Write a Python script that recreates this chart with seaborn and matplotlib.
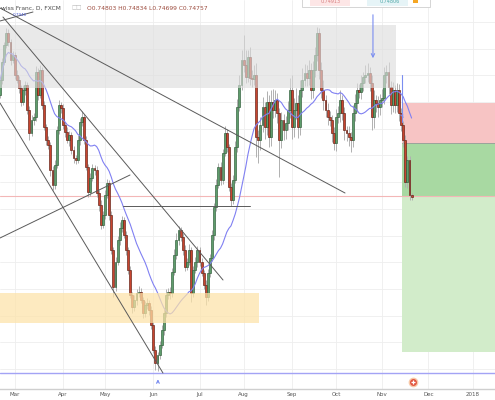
import numpy as np
import pandas as pd
import matplotlib
matplotlib.use("Agg")
import matplotlib.pyplot as plt
from matplotlib.patches import Rectangle
import seaborn as sns

sns.set_theme(style="white")
plt.rcParams["font.family"] = ["DejaVu Sans"]

# ---------------- data ----------------
title_text = "wiss Franc, D, FXCM"
ohlc_text = "O0.74803 H0.74834 L0.74699 C0.74757"
month_labels = ["Mar", "Apr", "May", "Jun", "Jul", "Aug", "Sep", "Oct", "Nov", "Dec", "2018"]
start_date = "2017-02-20"
first_open = 0.7680
last_open = 0.74803

closes = [
    0.7710, 0.7746, 0.7780, 0.7804, 0.7786, 0.7750, 0.7760, 0.7720, 0.7710, 0.7694,
    0.7666, 0.7690, 0.7700, 0.7650, 0.7604, 0.7630, 0.7636, 0.7726, 0.7680, 0.7730,
    0.7660, 0.7616, 0.7590, 0.7580, 0.7530, 0.7500, 0.7540, 0.7610, 0.7660, 0.7654,
    0.7620, 0.7606, 0.7590, 0.7600, 0.7570, 0.7554, 0.7550, 0.7590, 0.7626, 0.7636,
    0.7590, 0.7536, 0.7486, 0.7514, 0.7534, 0.7530, 0.7484, 0.7460, 0.7420, 0.7440,
    0.7480, 0.7504, 0.7440, 0.7370, 0.7296, 0.7346, 0.7390, 0.7414, 0.7430, 0.7400,
    0.7370, 0.7330, 0.7280, 0.7256, 0.7270, 0.7284, 0.7286, 0.7270, 0.7244, 0.7260,
    0.7264, 0.7250, 0.7220, 0.7170, 0.7144, 0.7160, 0.7180, 0.7210, 0.7244, 0.7280,
    0.7286, 0.7284, 0.7326, 0.7360, 0.7390, 0.7410, 0.7396, 0.7370, 0.7336, 0.7346,
    0.7370, 0.7284, 0.7330, 0.7346, 0.7370, 0.7346, 0.7324, 0.7300, 0.7276, 0.7324,
    0.7354, 0.7400, 0.7456, 0.7500, 0.7536, 0.7510, 0.7564, 0.7604, 0.7576, 0.7496,
    0.7470, 0.7510, 0.7576, 0.7656, 0.7700, 0.7750, 0.7740, 0.7716, 0.7756, 0.7714,
    0.7712, 0.7720, 0.7596, 0.7590, 0.7620, 0.7656, 0.7616, 0.7666, 0.7596, 0.7666,
    0.7650, 0.7670, 0.7644, 0.7590, 0.7630, 0.7610, 0.7624, 0.7650, 0.7690, 0.7616,
    0.7650, 0.7664, 0.7616, 0.7690, 0.7710, 0.7724, 0.7714, 0.7730, 0.7690, 0.7730,
    0.7760, 0.7804, 0.7730, 0.7690, 0.7670, 0.7650, 0.7636, 0.7630, 0.7604, 0.7584,
    0.7636, 0.7644, 0.7670, 0.7644, 0.7610, 0.7604, 0.7596, 0.7590, 0.7644, 0.7664,
    0.7690, 0.7686, 0.7704, 0.7716, 0.7720, 0.7724, 0.7704, 0.7636, 0.7670, 0.7664,
    0.7656, 0.7670, 0.7674, 0.7720, 0.7726, 0.7696, 0.7660, 0.7690, 0.7660, 0.7690,
    0.7644, 0.7620, 0.7590, 0.7506, 0.7550, 0.7480, 0.74757,
]

upper_wick_pips = [
    6, 8, 6, 10, 8, 6, 8, 6, 10, 8,
    6, 10, 8, 6, 8, 10, 8, 12, 8, 10,
    6, 8, 6, 8, 6, 8, 10, 8, 10, 6,
    8, 6, 10, 8, 6, 8, 6, 10, 8, 12,
    6, 8, 6, 10, 8, 6, 8, 6, 10, 8,
    10, 8, 6, 8, 6, 10, 8, 12, 8, 6,
    8, 6, 8, 6, 10, 8, 12, 8, 6, 8,
    10, 6, 8, 6, 8, 6, 8, 10, 8, 12,
    8, 10, 8, 12, 14, 8, 6, 8, 10, 8,
    12, 6, 8, 10, 8, 6, 8, 6, 10, 8,
    8, 10, 8, 12, 8, 10, 8, 14, 8, 6,
    8, 10, 12, 16, 20, 20, 50, 30, 14, 20,
    16, 20, 24, 14, 16, 20, 10, 22, 14, 24,
    26, 20, 14, 10, 16, 12, 14, 18, 24, 30,
    24, 30, 16, 20, 24, 18, 16, 20, 14, 18,
    16, 12, 10, 16, 20, 10, 14, 12, 10, 12,
    16, 14, 20, 10, 12, 8, 14, 10, 16, 18,
    14, 12, 16, 10, 20, 20, 12, 16, 20, 10,
    14, 12, 18, 16, 14, 20, 12, 16, 10, 14,
    12, 10, 8, 10, 8, 8, 3,
]

lower_wick_pips = [
    6, 8, 6, 6, 8, 10, 6, 8, 6, 10,
    8, 6, 10, 8, 14, 6, 10, 8, 10, 6,
    8, 6, 10, 8, 12, 10, 8, 6, 8, 10,
    8, 10, 6, 12, 8, 10, 8, 6, 10, 8,
    8, 6, 10, 8, 6, 10, 8, 12, 8, 6,
    8, 6, 10, 8, 20, 8, 6, 10, 8, 6,
    10, 8, 6, 12, 8, 10, 8, 6, 10, 8,
    8, 10, 8, 6, 14, 16, 8, 6, 10, 8,
    8, 12, 8, 6, 8, 10, 8, 10, 8, 6,
    6, 18, 8, 6, 10, 8, 6, 8, 16, 8,
    8, 6, 10, 8, 6, 10, 8, 6, 10, 8,
    12, 8, 6, 10, 8, 10, 14, 12, 10, 14,
    16, 12, 40, 46, 20, 14, 24, 16, 20, 18,
    16, 14, 20, 74, 16, 20, 18, 14, 16, 24,
    20, 18, 22, 16, 14, 12, 16, 14, 18, 16,
    14, 12, 18, 16, 20, 14, 16, 12, 18, 14,
    16, 12, 18, 14, 20, 16, 18, 24, 14, 16,
    18, 12, 14, 16, 12, 14, 16, 26, 22, 18,
    20, 16, 14, 12, 16, 14, 18, 14, 16, 14,
    16, 12, 14, 10, 12, 10, 6,
]

# zones (price levels) and hand-drawn lines (bar index, price)
supply_zone = (0.7694, 0.7820)
demand_zone = (0.7224, 0.7284)
stop_zone = (0.7584, 0.7664)
target1_zone = (0.7478, 0.7584)
target2_zone = (0.7166, 0.7478)
entry_level = 0.7478
bottom_level = 0.7124
trend_lines = [
    ((0.0, 0.7854), (164.3, 0.7484)),
    ((1.4, 0.7836), (106.2, 0.7310)),
    ((0.0, 0.7664), (77.6, 0.7124)),
    ((0.0, 0.7394), (61.9, 0.7520)),
    ((0.0, 0.7828), (15.7, 0.7846)),
    ((58.6, 0.7458), (119.0, 0.7458)),
]

# ---------------- frame ----------------
n = len(closes)
df = pd.DataFrame({"date": pd.bdate_range(start_date, periods=n), "close": closes})
df["open"] = [first_open] + closes[:-1]
df.loc[n - 1, "open"] = last_open
pip = 0.0001
df["high"] = np.maximum(df["open"], df["close"]) + np.array(upper_wick_pips) * pip
df["low"] = np.minimum(df["open"], df["close"]) - np.array(lower_wick_pips) * pip
df["idx"] = np.arange(n)
df["ma"] = df["close"].rolling(20, min_periods=1).mean()

cal = pd.bdate_range(start_date, "2018-01-31")
month_starts = pd.date_range("2017-03-01", "2018-01-01", freq="MS")
month_pos = [int(np.searchsorted(cal, m)) for m in month_starts]

W, H = 495, 400
fig = plt.figure(figsize=(W / 100, H / 100), dpi=100)
ax = fig.add_axes([0, 11 / H, 1, 389 / H])
xmax = W / 2.1
ax.set_xlim(0, xmax)
ax.set_ylim(0.7092, 0.7870)

# grid
grid_vals = 0.7826 - 0.00534 * np.arange(14)
ax.set_yticks(grid_vals)
ax.set_yticklabels([])
ax.set_xticks(month_pos)
ax.set_xticklabels(month_labels, fontsize=4, color="#555555")
ax.tick_params(axis="both", length=0, pad=2.5)
ax.grid(True, color="#eeeeee", lw=0.6)
ax.set_axisbelow(True)
for s in ["top", "left", "right"]:
    ax.spines[s].set_visible(False)
ax.spines["bottom"].set_color("#cfcfcf")
ax.spines["bottom"].set_linewidth(1.0)

# position tool zones (under candles)
x0z = 191.4
ax.add_patch(Rectangle((x0z, stop_zone[0]), xmax - x0z, stop_zone[1] - stop_zone[0],
                       facecolor="#f7c4c4", edgecolor="none", zorder=1))
ax.add_patch(Rectangle((x0z, target1_zone[0]), xmax - x0z, target1_zone[1] - target1_zone[0],
                       facecolor="#a8d9a2", edgecolor="none", zorder=1))
ax.add_patch(Rectangle((x0z, target2_zone[0]), xmax - x0z, target2_zone[1] - target2_zone[0],
                       facecolor="#d2ecca", edgecolor="none", zorder=1))
ax.plot([x0z, xmax], [stop_zone[0], stop_zone[0]], color="#9a9a9a", lw=0.6, zorder=1.5)

# entry / bottom lines
ax.axhline(entry_level, color="#f3b7b7", lw=0.8, zorder=1.6)
ax.axhline(bottom_level, color="#a3a3f5", lw=1.0, zorder=1.6)

# candles
up = (df["close"] >= df["open"]).to_numpy()
ax.vlines(df["idx"], df["low"], df["high"], color="#b0b0b0", lw=0.7, zorder=2)
body_bottom = np.minimum(df["open"], df["close"])
body_h = np.maximum((df["close"] - df["open"]).abs(), 0.00005)
ax.bar(df["idx"], body_h, bottom=body_bottom, width=0.88,
       color=np.where(up, "#5f9d6c", "#c8452f"),
       edgecolor=np.where(up, "#2e5b37", "#5e1d12"), linewidth=0.45, zorder=3)

# moving average
sns.lineplot(data=df, x="idx", y="ma", ax=ax, color="#8080f2", lw=0.8, zorder=4)
ax.set_xlabel("")
ax.set_ylabel("")

# supply / demand zones on top (translucent)
ax.add_patch(Rectangle((0, supply_zone[0]), 188.6, supply_zone[1] - supply_zone[0],
                       facecolor="#dddddd", alpha=0.62, edgecolor="none", zorder=5))
ax.add_patch(Rectangle((0, demand_zone[0]), 123.3, demand_zone[1] - demand_zone[0],
                       facecolor="#fde3a8", alpha=0.72, edgecolor="none", zorder=5))

# trend lines
for (xa, ya), (xb, yb) in trend_lines:
    ax.plot([xa, xb], [ya, yb], color="#5a5a5a", lw=0.7, zorder=6)

# blue arrows
blue = "#7b8ef0"
ax.annotate("", xy=(177.6, 0.7748), xytext=(177.6, 0.7846),
            arrowprops=dict(arrowstyle="->", color=blue, lw=0.8, mutation_scale=6), zorder=7)
ax.plot([191.4, 191.4], [0.7720, 0.7626], color=blue, lw=0.8, zorder=7)
ax.annotate("", xy=(192.6, 0.7630), xytext=(191.4, 0.7640),
            arrowprops=dict(arrowstyle="->", color=blue, lw=0.7, mutation_scale=4), zorder=7)
ax.annotate("", xy=(75.2, 0.7117), xytext=(75.2, 0.7099),
            arrowprops=dict(arrowstyle="->", color=blue, lw=0.8, mutation_scale=5), zorder=7,
            annotation_clip=False)

# red alert icon
ax.plot([196.7], [0.7105], marker="o", ms=7, color="#f8c9a8", mec="none", zorder=8, clip_on=False)
ax.plot([196.7], [0.7105], marker="o", ms=5, color="#e2553f", mec="none", zorder=9, clip_on=False)
ax.plot([196.7], [0.7105], marker="+", ms=3, color="white", mew=0.9, zorder=10, clip_on=False)

# header texts
fig.text(1 / W, 1 - 8 / H, title_text, fontsize=4.3, color="#4a4a4a", ha="left", va="center")
fig.text(71 / W, 1 - 8 / H, "\u25a1\u25a1", fontsize=4, color="#b8b8b8", ha="left", va="center")
fig.text(87 / W, 1 - 8 / H, ohlc_text, fontsize=4.3, color="#9c4a3c", ha="left", va="center")
fig.text(13 / W, 1 - 15 / H, "0.7940", fontsize=3, color="#4b5bd6", ha="left", va="center")

# partially visible popup box at the top
fig.patches.append(Rectangle((302 / W, 1 - 7 / H), 128 / W, 12 / H, transform=fig.transFigure,
                             facecolor="white", edgecolor="#cfcfcf", lw=0.6, zorder=20))
fig.patches.append(Rectangle((310 / W, 1 - 5.5 / H), 40 / W, 8 / H, transform=fig.transFigure,
                             facecolor="#fde6e6", edgecolor="none", zorder=21))
fig.patches.append(Rectangle((367 / W, 1 - 5.5 / H), 41 / W, 8 / H, transform=fig.transFigure,
                             facecolor="#e6f4f7", edgecolor="none", zorder=21))
fig.patches.append(Rectangle((413 / W, 1 - 2.5 / H), 5 / W, 5 / H, transform=fig.transFigure,
                             facecolor="#f5a623", edgecolor="none", zorder=21))
fig.text(321 / W, 1 - 1.5 / H, "0.74913", fontsize=3.5, color="#d88080", ha="left", va="center", zorder=22)
fig.text(380 / W, 1 - 1.5 / H, "0.74806", fontsize=3.5, color="#50a8a8", ha="left", va="center", zorder=22)

fig.savefig("out.png", dpi=100)
